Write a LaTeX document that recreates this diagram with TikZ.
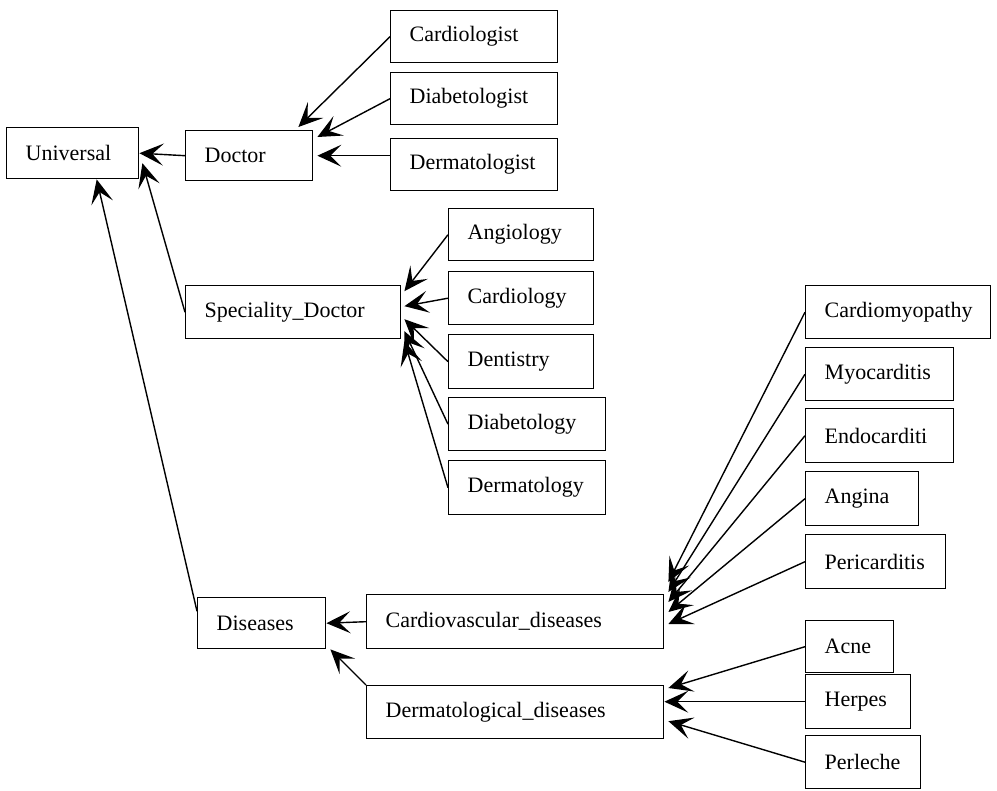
\documentclass[tikz,border=0pt]{standalone}
\usepackage{fontspec}
\setmainfont{Liberation Serif}
\usetikzlibrary{arrows.meta}
\tikzset{
  box/.style={draw, line width=1.4pt, anchor=north west, inner xsep=19pt, inner ysep=0pt,
    align=left, font=\fontsize{22}{26}\selectfont},
  arr/.style={line width=1.4pt, -{Stealth[length=24pt,width=22pt,inset=11pt]}}
}
\begin{document}
\begin{tikzpicture}[x=1pt,y=-1pt]
            \useasboundingbox (0,0) rectangle (997,791);
            % top level
            \node[box,text width=94pt,minimum height=51pt] (univ) at (6,127) {Universal};
            \node[box,text width=89pt,minimum height=50pt] (doc) at (185,130) {Doctor};
            \node[box,text width=177pt,minimum height=53pt] (spec) at (185,285) {Speciality\_Doctor};
            \node[box,text width=90pt,minimum height=51pt] (dis) at (197,597) {Diseases};
            % doctors
            \node[box,text width=129pt,minimum height=52pt] (cardt) at (390,10) {Cardiologist};
            \node[box,text width=129pt,minimum height=52pt] (diabt) at (390,72) {Diabetologist};
            \node[box,text width=129pt,minimum height=52pt] (dermt) at (390,138) {Dermatologist};
            % specialities
            \node[box,text width=107pt,minimum height=52pt] (angi) at (448,208) {Angiology};
            \node[box,text width=107pt,minimum height=53pt] (cardy) at (448,271) {Cardiology};
            \node[box,text width=107pt,minimum height=54pt] (dent) at (448,334) {Dentistry};
            \node[box,text width=119pt,minimum height=53pt] (diaby) at (448,397) {Diabetology};
            \node[box,text width=119pt,minimum height=54pt] (dermy) at (448,460) {Dermatology};
            % diseases
            \node[box,text width=259pt,minimum height=54pt] (cvd) at (366,594) {Cardiovascular\_diseases};
            \node[box,text width=259pt,minimum height=53pt] (dd) at (366,685) {Dermatological\_diseases};
            \node[box,text width=147pt,minimum height=53pt] (cmyo) at (805,285) {Cardiomyopathy};
            \node[box,text width=110pt,minimum height=53pt] (myoc) at (805,347) {Myocarditis};
            \node[box,text width=110pt,minimum height=54pt] (endo) at (805,408) {Endocarditi};
            \node[box,text width=75pt,minimum height=54pt] (angn) at (805,471) {Angina};
            \node[box,text width=102pt,minimum height=54pt] (peri) at (805,534) {Pericarditis};
            \node[box,text width=50pt,minimum height=52pt] (acne) at (805,620) {Acne};
            \node[box,text width=67pt,minimum height=54pt] (herp) at (805,674) {Herpes};
            \node[box,text width=77pt,minimum height=53pt] (perl) at (805,735) {Perleche};
            % arrows
            \draw[arr] (doc.west) -- (univ.east);
            \draw[arr] (spec.west) -- ([xshift=3pt,yshift=-10pt]univ.east);
            \draw[arr] ([yshift=12pt]dis.west) -- ([xshift=24pt]univ.south);
            \draw[arr] (cardt.west) -- ([xshift=-15pt,yshift=3pt]doc.north east);
            \draw[arr] (diabt.west) -- ([xshift=4pt,yshift=-7pt]doc.north east);
            \draw[arr] (doc.east -| dermt.west) -- ([xshift=4pt]doc.east);
            \foreach \c/\s in {angi/21,cardy/6,dent/-7,diaby/-19,dermy/-29}
              \draw[arr] (\c.west) -- ([xshift=3pt,yshift=\s pt]spec.east);
            \draw[arr] (cvd.west) -- (dis.east);
            \draw[arr] (dd.north west) -- ([xshift=4pt]dis.south east);
            \foreach \c/\s in {cmyo/12,myoc/2,endo/-8,angn/-18,peri/-30}
              \draw[arr] (\c.west) -- ([xshift=4pt,yshift=\s pt]cvd.north east);
            \draw[arr] (acne.west) -- ([xshift=4pt,yshift=-3pt]dd.north east);
            \draw[arr] (herp.west) -- (dd.east |- herp.west);
            \draw[arr] (perl.west) -- ([xshift=4pt,yshift=-9pt]dd.east);
\end{tikzpicture}
\end{document}
